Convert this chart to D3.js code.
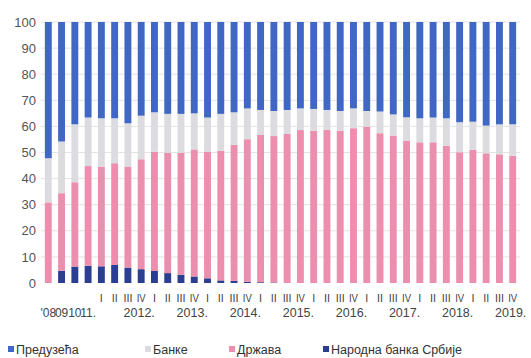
<!DOCTYPE html>
<html><head><meta charset="utf-8">
<script src="https://cdn.jsdelivr.net/npm/d3@7/dist/d3.min.js"></script>
<style>body{margin:0;background:#fff}svg{display:block;font-family:"Liberation Sans",Arial,sans-serif}</style>
</head><body><svg id="c" width="531" height="358"></svg>
<script>
const categories = ["'08","09","10","11.",
 "2012 I","2012 II","2012 III","2012 IV","2013 I","2013 II","2013 III","2013 IV",
 "2014 I","2014 II","2014 III","2014 IV","2015 I","2015 II","2015 III","2015 IV",
 "2016 I","2016 II","2016 III","2016 IV","2017 I","2017 II","2017 III","2017 IV",
 "2018 I","2018 II","2018 III","2018 IV","2019 I","2019 II","2019 III","2019 IV"];
const quarterLabels = ["'08","09","10","11.",
 "I","II","III","IV","I","II","III","IV","I","II","III","IV","I","II","III","IV",
 "I","II","III","IV","I","II","III","IV","I","II","III","IV","I","II","III","IV"];
const yearLabels = ["2012.","2013.","2014.","2015.","2016.","2017.","2018.","2019."];
const yearAnchor = ["2012 IV","2013 IV","2014 IV","2015 IV","2016 IV","2017 IV","2018 IV","2019 IV"];
const yTicks = [0,10,20,30,40,50,60,70,80,90,100];

const seriesNames = ["Народна банка Србије","Држава","Банке","Предузећа"];
const nbs = [0,4.7,6.3,6.6,6.4,6.9,5.9,5.3,4.6,3.8,3.2,2.5,1.8,1.0,0.8,0.5,0.3,0.2,
 0,0,0,0,0,0,0,0,0,0,0,0,0,0,0,0,0,0];
const drzava = [30.9,29.7,32.3,38.2,38.2,39.0,38.7,42.1,45.7,46.1,46.7,48.7,48.5,49.7,52.1,54.6,56.4,56.1,
 57.1,58.6,58.3,58.6,58.4,59.3,59.9,57.4,56.5,54.4,53.9,53.9,52.6,50.1,51.0,49.7,49.3,48.7];
const banke = [16.9,19.8,22.2,18.6,18.5,17.2,16.6,16.7,15.1,14.9,14.9,13.8,13.1,14.1,12.5,11.8,9.6,9.6,
 9.2,8.3,8.4,7.7,7.5,7.6,6.0,8.3,8.1,9.1,9.2,9.5,10.5,11.5,10.8,10.6,11.5,12.1];
const preduzeca = [52.2,45.8,39.2,36.6,36.9,36.9,38.8,35.9,34.6,35.2,35.2,35.0,36.6,35.2,34.6,33.1,33.7,34.1,
 33.7,33.1,33.3,33.7,34.1,33.1,34.1,34.3,35.4,36.5,36.9,36.6,36.9,38.4,38.2,39.7,39.2,39.2];

const colors = {"Предузећа":"#3f67c3","Банке":"#dcdce0","Држава":"#ec8fae","Народна банка Србије":"#2c3e92"};
const legendOrder = ["Предузећа","Банке","Држава","Народна банка Србије"];

const rows = categories.map((c,i)=>({cat:c,"Народна банка Србије":nbs[i],"Држава":drzava[i],"Банке":banke[i],"Предузећа":preduzeca[i]}));
const stack = d3.stack().keys(seriesNames)(rows);

const svg = d3.select("#c");
const x = d3.scaleBand().domain(categories).range([41.4,519.6]).paddingInner(0.48).paddingOuter(0.26);
const y = d3.scaleLinear().domain([0,100]).range([283,22]);

// gridlines
svg.append("g").selectAll("line").data(yTicks.filter(t=>t>0)).join("line")
 .attr("x1",41).attr("x2",520).attr("y1",d=>y(d)).attr("y2",d=>y(d))
 .attr("stroke","#e3e3e3").attr("stroke-width",1);

// y axis labels
const yAxis = d3.axisLeft(y).tickValues(yTicks).tickSize(0).tickPadding(0);
const ya = svg.append("g").attr("transform","translate(36,0)").call(yAxis);
ya.select(".domain").remove();
ya.selectAll("text").attr("font-size",13).attr("fill","#555").attr("font-family","'Liberation Sans',Arial,sans-serif");

// bars
svg.append("g").selectAll("g").data(stack).join("g").attr("fill",d=>colors[d.key])
 .selectAll("rect").data(d=>d).join("rect")
 .attr("x",d=>x(d.data.cat)).attr("width",x.bandwidth())
 .attr("y",d=>y(d[1])).attr("height",d=>Math.max(0,y(d[0])-y(d[1])));

// x labels
const xl = svg.append("g").attr("fill","#444").attr("text-anchor","middle");
xl.selectAll("text.q").data(categories.slice(4)).join("text").attr("class","q")
 .attr("font-size",11.5).attr("textLength",(d,i)=>[3,6,9,9][i%4]).attr("lengthAdjust","spacingAndGlyphs")
 .attr("x",d=>x(d)+x.bandwidth()/2).attr("y",302).text((d,i)=>quarterLabels[i+4]);
xl.selectAll("text.e").data(categories.slice(0,4)).join("text").attr("class","e")
 .attr("font-size",12)
 .attr("x",d=>x(d)+x.bandwidth()/2).attr("y",317).text((d,i)=>quarterLabels[i]);
xl.selectAll("text.y").data(yearLabels).join("text").attr("class","y")
 .attr("font-size",12.5)
 .attr("x",(d,i)=>x(yearAnchor[i])+x.bandwidth()/2-2).attr("y",317).text(d=>d);

// legend
const legX = [8,145,229,323];
const lg = svg.append("g").attr("font-size",12.5).attr("fill","#333");
legendOrder.forEach((k,i)=>{
  lg.append("rect").attr("x",legX[i]).attr("y",346).attr("width",6).attr("height",6).attr("fill",colors[k]);
  lg.append("text").attr("x",legX[i]+8).attr("y",353.5).text(k);
});
</script></body></html>
